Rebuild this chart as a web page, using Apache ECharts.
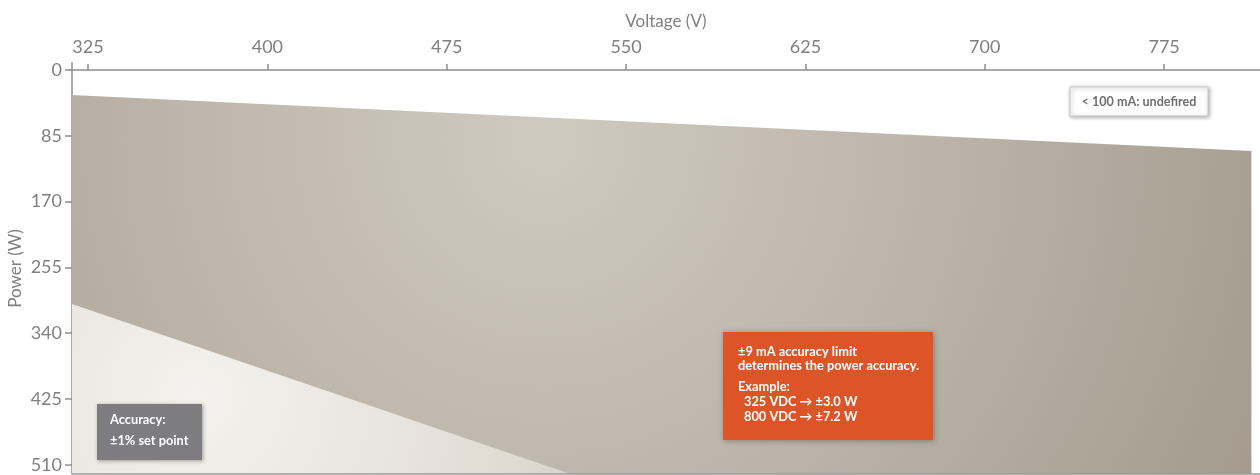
<!DOCTYPE html>
<html>
<head>
<meta charset="utf-8">
<script src="https://cdn.jsdelivr.net/npm/echarts@6/dist/echarts.min.js"></script>
<style>
html,body{margin:0;padding:0;background:#fff;}
#chart{width:1260px;height:475px;}
</style>
</head>
<body>
<div id="chart"></div>
<script>
// Data
const voltageTicks = [325, 400, 475, 550, 625, 700, 775];
const powerTicks = [0, 85, 170, 255, 340, 425, 510];
const limitVoltage = [318.3, 811.5];
const limitPower = [32.3, 104.7];
const accuracyVoltage = [318.3, 526.7];
const accuracyPower = [302.3, 522];

const zip = (a, b) => a.map((v, i) => [v, b[i]]);

const chart = echarts.init(document.getElementById('chart'));
const FONT = 'Lato, "Noto Sans", sans-serif';
const axisGrey = '#8e8e8e';
const labelGrey = '#808080';

function box(x, y, w, h, fill, stroke, lines, textColor, extra) {
  return {
    type: 'group', x: x, y: y, z: 100,
    children: [
      { type: 'rect', z: 100, shape: { x: 0, y: 0, width: w, height: h },
        style: Object.assign({ fill: fill, stroke: stroke, lineWidth: stroke ? 1 : 0,
          shadowBlur: 4, shadowColor: 'rgba(0,0,0,0.35)', shadowOffsetX: 1, shadowOffsetY: 1 }, extra || {}) },
      ...lines.map(l => ({
        type: 'text', x: l.x, y: l.y, z: 101,
        style: { text: l.t, fill: textColor, font: (l.w || 'bold') + ' ' + (l.s || 12.8) + 'px ' + FONT,
          textVerticalAlign: 'middle', textAlign: l.a || 'left' }
      }))
    ]
  };
}

chart.setOption({
  animation: false,
  grid: { left: 72, top: 63, right: 0, bottom: 1, containLabel: false, outerBoundsMode: 'none' },
  xAxis: {
    type: 'value', position: 'top', min: 318.3, max: 815.1,
    name: 'Voltage (V)', nameLocation: 'middle', nameGap: 33, nameMoveOverlap: false,
    nameTextStyle: { color: labelGrey, fontFamily: FONT, fontSize: 17 },
    axisLine: { show: true, lineStyle: { color: axisGrey, width: 1.5 } },
    axisTick: { show: true, length: 6, lineStyle: { color: axisGrey, width: 1.5 }, customValues: voltageTicks },
    axisLabel: { color: labelGrey, fontFamily: FONT, fontSize: 18, margin: 7, customValues: voltageTicks },
    splitLine: { show: false }
  },
  yAxis: {
    type: 'value', inverse: true, min: -9, max: 522,
    name: 'Power (W)', nameLocation: 'middle', nameGap: 48, nameRotate: 90, nameMoveOverlap: false,
    nameTextStyle: { color: labelGrey, fontFamily: FONT, fontSize: 17 },
    axisLine: { show: true, lineStyle: { color: axisGrey, width: 1.5 } },
    axisTick: { show: true, length: 7, lineStyle: { color: axisGrey, width: 1.5 }, customValues: powerTicks },
    axisLabel: { color: labelGrey, fontFamily: FONT, fontSize: 18, margin: 10, customValues: powerTicks },
    splitLine: { show: false }
  },
  series: [
    {
      type: 'line', data: zip(limitVoltage, limitPower), symbol: 'none', silent: true,
      lineStyle: { width: 0 },
      areaStyle: {
        origin: 'end', opacity: 1,
        color: { type: 'radial', x: 0.4, y: 0.12, r: 2.2,
          colorStops: [
            { offset: 0, color: '#d0c9bf' },
            { offset: 0.45, color: '#bdb5aa' },
            { offset: 1, color: '#a1988b' }
          ] }
      }
    },
    {
      type: 'line', data: zip(accuracyVoltage, accuracyPower), symbol: 'none', silent: true,
      lineStyle: { width: 0 },
      areaStyle: {
        origin: 'end', opacity: 1,
        color: { type: 'radial', x: 0.25, y: 0.55, r: 2.8,
          colorStops: [
            { offset: 0, color: '#f4f2ee' },
            { offset: 0.5, color: '#e6e2db' },
            { offset: 1, color: '#d3cdc3' }
          ] }
      }
    }
  ],
  graphic: [
    { type: 'line', z: 90, shape: { x1: 72, y1: 474, x2: 1260, y2: 474 }, style: { stroke: '#9a9a9a', lineWidth: 1.5 } },
    box(1070, 87, 138, 29, '#ffffff', '#c8c8c8', [
      { t: '< 100 mA: undefired', x: 69, y: 14.5, a: 'center', s: 12.6 }
    ], '#6f6f6f'),
    box(97, 404, 105, 56, '#7d7d80', null, [
      { t: 'Accuracy:', x: 13, y: 16 },
      { t: '±1% set point', x: 13, y: 37 }
    ], '#ffffff'),
    box(723, 332, 210, 108, '#dd5427', null, [
      { t: '±9 mA accuracy limit', x: 15, y: 20 },
      { t: 'determines the power accuracy.', x: 15, y: 34 },
      { t: 'Example:', x: 15, y: 55 },
      { t: '325 VDC \u2192 ±3.0 W', x: 21, y: 70 },
      { t: '800 VDC \u2192 ±7.2 W', x: 21, y: 85 }
    ], '#ffffff', { shadowBlur: 6, shadowColor: 'rgba(0,0,0,0.3)' })
  ]
});
</script>
</body>
</html>
